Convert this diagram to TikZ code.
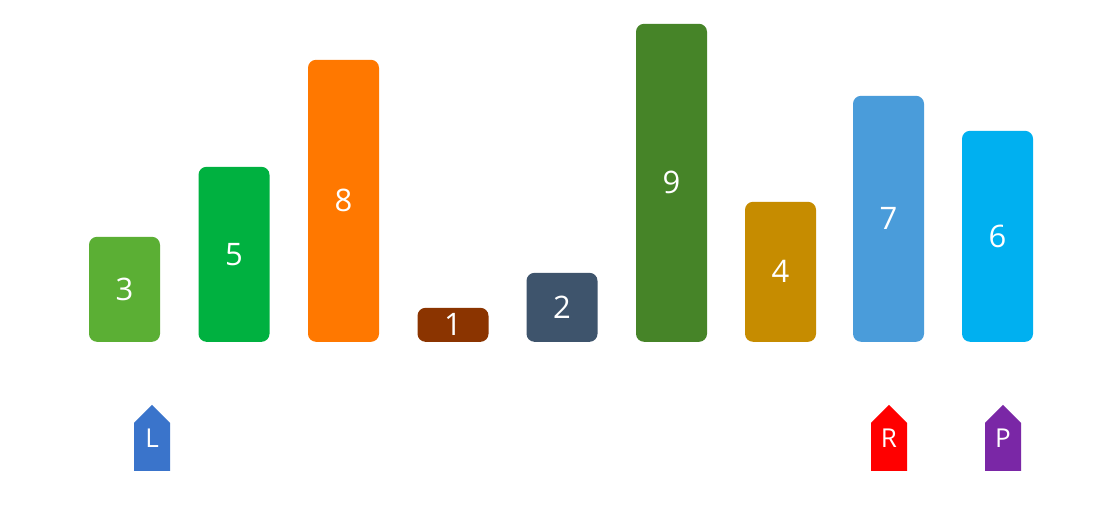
\documentclass[tikz,border=0pt]{standalone}
\usepackage{fontspec}
\setmainfont{Open Sans}
\definecolor{barthree}{HTML}{5BAF34}
\definecolor{barfive}{HTML}{00B140}
\definecolor{bareight}{HTML}{FF7800}
\definecolor{barone}{HTML}{8B3400}
\definecolor{bartwo}{HTML}{3E546C}
\definecolor{barnine}{HTML}{468428}
\definecolor{barfour}{HTML}{C68C00}
\definecolor{barseven}{HTML}{4A9CDA}
\definecolor{barsix}{HTML}{00B0F0}
\definecolor{ptrleft}{HTML}{3A74CB}
\definecolor{ptrright}{HTML}{FF0000}
\definecolor{ptrpivot}{HTML}{7A27A6}

\begin{document}
\begin{tikzpicture}[x=1pt,y=-1pt,
 barbox/.style={rounded corners=8pt,anchor=south,minimum width=71pt,inner sep=0pt,text=white,font=\fontsize{31}{31}\selectfont},
 ptrbox/.style={anchor=south,minimum width=36pt,minimum height=66pt,inner sep=0pt,text=white,font=\fontsize{26}{26}\selectfont,
   path picture={\fill[#1] (path picture bounding box.south west)
     -- ([yshift=-18pt]path picture bounding box.north west) -- (path picture bounding box.north)
     -- ([yshift=-18pt]path picture bounding box.north east) -- (path picture bounding box.south east) -- cycle;}}
]
\useasboundingbox[fill=white] (0,0) rectangle (1102,513);
\node[barbox,fill=barthree,minimum height=105pt] (b3) at (124.5,342) {3};
\node[barbox,fill=barfive,minimum height=175pt] (b5) at (234,342) {5};
\node[barbox,fill=bareight,minimum height=282pt] (b8) at (343.5,342) {8};
\node[barbox,fill=barone,minimum height=34pt] (b1) at (453,342) {1};
\node[barbox,fill=bartwo,minimum height=69pt] (b2) at (562,342) {2};
\node[barbox,fill=barnine,minimum height=318pt] (b9) at (671.5,342) {9};
\node[barbox,fill=barfour,minimum height=140pt] (b4) at (780.5,342) {4};
\node[barbox,fill=barseven,minimum height=246pt] (b7) at (888.5,342) {7};
\node[barbox,fill=barsix,minimum height=211pt] (b6) at (997.5,342) {6};
\node[ptrbox=ptrleft] (left) at (152,471) {L};
\node[ptrbox=ptrright] (right) at (889,471) {R};
\node[ptrbox=ptrpivot] (pivot) at (1003,471) {P};
\end{tikzpicture}
\end{document}
